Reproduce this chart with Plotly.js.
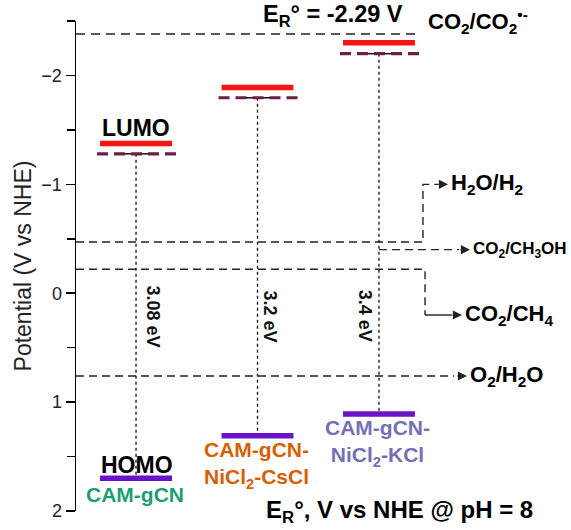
<!DOCTYPE html>
<html><head><meta charset="utf-8">
<script src="https://cdn.plot.ly/plotly-3.0.1.min.js"></script>
<style>body{margin:0;background:#fff}#c{width:571px;height:530px}</style>
</head><body><div id="c"></div>
<script>
// ---- data ----
const materials = ['CAM-gCN', 'CAM-gCN-<br>NiCl<sub>2</sub>-CsCl', 'CAM-gCN-<br>NiCl<sub>2</sub>-KCl'];
const materialColors = ['#1b9e77', '#d95f02', '#7570b3'];
const cbEdge = [-1.375, -1.89, -2.30];      // red LUMO levels
const cbOnset = [-1.28, -1.795, -2.20];     // dashed levels
const vbEdge = [1.70, 1.31, 1.11];          // HOMO levels
const bandGapLabels = ['3.08 eV', '3.2 eV', '3.4 eV'];
const redoxNames = ['CO2/CO2•-', 'H2O/H2', 'CO2/CH3OH', 'CO2/CH4', 'O2/H2O'];
const redoxPotentials = [-2.38, -0.47, -0.40, -0.22, 0.76];
const yTickVals = [-2, -1, 0, 1, 2];

// ---- layout helpers (positions) ----
const X0 = -0.494, X1 = 3.457;
const halfW = 0.296;
const font = 'Liberation Sans, Arial, sans-serif';
const ink = '#222';

const traces = [];
function addLine(xs, ys, color, width, dash) {
  traces.push({type: 'scatter', mode: 'lines', x: xs, y: ys, hoverinfo: 'skip',
    line: {color: color, width: width, dash: dash || 'solid'}, showlegend: false});
}

// redox reference lines
const [eCO2rad, eH2, eMeOH, eCH4, eO2] = redoxPotentials;
addLine([X0, 2.337], [eCO2rad, eCO2rad], ink, 1.6, '9px,6px');
addLine([X0, 2.362, 2.362, 2.49], [eH2, eH2, -1.0, -1.0], ink, 1.4, '8px,5px');
addLine([2.0, 2.66], [eMeOH, eMeOH], ink, 1.4, '8px,5px');
addLine([X0, 2.379, 2.379], [eCH4, eCH4, 0.20], ink, 1.4, '8px,5px');
addLine([2.379, 2.60], [0.20, 0.20], ink, 1.4);
addLine([X0, 2.62], [eO2, eO2], ink, 1.4, '8px,5px');

// band levels
materials.forEach((m, i) => {
  addLine([i, i], [cbOnset[i], vbEdge[i]], '#111', 1.3, 'dot');
  addLine([i - 0.12, i + 0.12], [cbOnset[i], cbOnset[i]], '#111', 1.5);
  addLine([i - halfW - 0.025, i + halfW + 0.045], [cbOnset[i], cbOnset[i]], '#6b1d4c', 3.2, '11px,6px');
  addLine([i - halfW, i + halfW], [cbEdge[i], cbEdge[i]], '#f81414', 5.5);
  addLine([i - halfW, i + halfW], [vbEdge[i], vbEdge[i]], '#6a12c8', 5.5);
});

const ann = [];
const bgOffset = [0.136, 0.10, -0.12];
bandGapLabels.forEach((t, i) => ann.push({x: i + bgOffset[i], y: 0.21, text: '<b>' + t + '</b>',
  textangle: 90, showarrow: false, font: {family: font, size: 18, color: '#111'}}));

const matY = [1.85, 1.58, 1.38];
materials.forEach((m, i) => ann.push({x: i - 0.01, y: matY[i], text: '<b>' + m + '</b>', showarrow: false,
  font: {family: font, size: 21, color: materialColors[i]}}));

ann.push({x: 0, y: -1.52, text: '<b>LUMO</b>', showarrow: false, font: {family: font, size: 23, color: '#000'}});
ann.push({x: 0.005, y: 1.58, text: '<b>HOMO</b>', showarrow: false, font: {family: font, size: 23, color: '#000'}});

// arrow heads
function arrowHead(xHead, y) {
  ann.push({x: xHead, y: y, ax: xHead - 0.09, ay: y, axref: 'x', ayref: 'y', text: '', showarrow: true,
    arrowhead: 2, arrowsize: 1.3, arrowwidth: 1.4, arrowcolor: ink, standoff: 0});
}
arrowHead(2.568, -1.0);
arrowHead(2.749, eMeOH);
arrowHead(2.683, 0.20);
arrowHead(2.724, eO2);

function label(x, y, text, size) {
  ann.push({x: x, y: y, text: '<b>' + text + '</b>', xanchor: 'left', showarrow: false,
    font: {family: font, size: size, color: '#000'}});
}
label(2.58, -1.0, 'H<sub>2</sub>O/H<sub>2</sub>', 22);
label(2.76, eMeOH, 'CO<sub>2</sub>/CH<sub>3</sub>OH', 17);
label(2.695, 0.20, 'CO<sub>2</sub>/CH<sub>4</sub>', 22);
label(2.735, eO2, 'O<sub>2</sub>/H<sub>2</sub>O', 22);

ann.push({xref: 'paper', yref: 'paper', x: 0.385, y: 1.012, xanchor: 'left', yanchor: 'middle', showarrow: false,
  text: '<b>E<sub>R</sub>° = -2.29 V</b>', font: {family: font, size: 23.5, color: '#000'}});
ann.push({xref: 'paper', yref: 'paper', x: 0.729, y: 1.0, xanchor: 'left', yanchor: 'middle', showarrow: false,
  text: '<b>CO<sub>2</sub>/CO<sub>2</sub><sup>•-</sup></b>', font: {family: font, size: 22, color: '#000'}});
ann.push({xref: 'paper', yref: 'paper', x: 0.392, y: -0.037, xanchor: 'left', yanchor: 'bottom', showarrow: false,
  text: '<b>E<sub>R</sub>°, V vs NHE @ pH = 8</b>', font: {family: font, size: 24, color: '#000'}});

const layout = {
  width: 571, height: 530,
  margin: {l: 76, r: 15, t: 21, b: 19},
  paper_bgcolor: '#fff', plot_bgcolor: '#fff',
  showlegend: false,
  xaxis: {range: [X0, X1], visible: false, fixedrange: true},
  yaxis: {range: [2, -2.5], showgrid: false, zeroline: false, showline: true, linecolor: '#000', linewidth: 1.5,
    ticks: 'outside', ticklen: 9, tickwidth: 1.5, tickcolor: '#000', tickvals: yTickVals,
    minor: {dtick: 0.5, ticks: 'outside', ticklen: 8, tickwidth: 1.5, tickcolor: '#000', showgrid: false},
    tickfont: {family: font, size: 18, color: '#222'}, automargin: false,
    title: {text: 'Potential (V vs NHE)', font: {family: font, size: 23, color: '#222'}, standoff: 3}},
  annotations: ann
};
Plotly.newPlot('c', traces, layout, {staticPlot: true, displayModeBar: false});
</script></body></html>
